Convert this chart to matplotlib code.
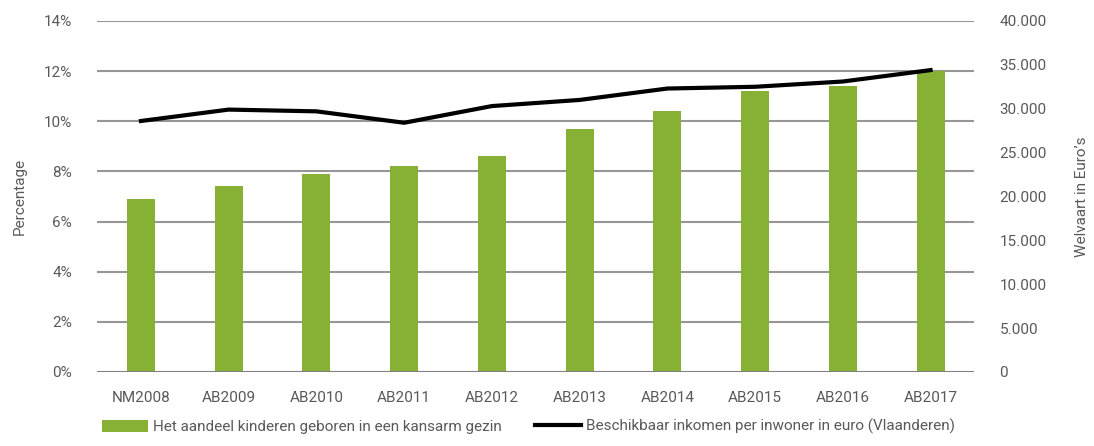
import matplotlib.pyplot as plt
import numpy as np

plt.rcParams['font.family'] = ['Roboto', 'DejaVu Sans']

jaren = ['NM2008', 'AB2009', 'AB2010', 'AB2011', 'AB2012',
         'AB2013', 'AB2014', 'AB2015', 'AB2016', 'AB2017']
aandeel = [6.9, 7.4, 7.9, 8.2, 8.6, 9.7, 10.4, 11.2, 11.4, 12.0]
inkomen = [28600, 29900, 29700, 28400, 30300, 31000, 32300, 32500, 33100, 34400]

groen = '#86b135'
grijs = '#595959'
fs = 11

fig = plt.figure(figsize=(10.94, 4.46), dpi=100)
ax = fig.add_axes([0.0887, 0.166, 0.802, 0.787])
ax2 = ax.twinx()

x = np.arange(len(jaren))
ax.bar(x, [v / 100 for v in aandeel], width=0.32, color=groen, zorder=2,
       label='Het aandeel kinderen geboren in een kansarm gezin')
ax2.plot(x, inkomen, color='black', lw=3, zorder=3,
         label='Beschikbaar inkomen per inwoner in euro (Vlaanderen)')

ax.set_ylim(0, 0.14)
ax2.set_ylim(0, 40000)
ax.set_xlim(-0.5, len(jaren) - 0.5)
ax.set_yticks(np.arange(0, 0.141, 0.02))
ax.set_yticklabels([f'{int(round(v*100))}%' for v in np.arange(0, 0.141, 0.02)])
ax2.set_yticks(np.arange(0, 40001, 5000))
ax2.set_yticklabels(['0' if v == 0 else f'{v:,}'.replace(',', '.') for v in range(0, 40001, 5000)])
ax.set_xticks(x)
ax.set_xticklabels(jaren)

for a in (ax, ax2):
    for s in a.spines.values():
        s.set_visible(False)
    a.tick_params(length=0, colors=grijs, labelsize=fs)
ax.tick_params(axis='x', pad=14)
ax.tick_params(axis='y', pad=18)
ax2.tick_params(axis='y', pad=18)

for v in np.arange(0.02, 0.141, 0.02):
    ax.axhline(v, color='#969696', lw=1.5, zorder=1)
ax.axhline(0, color='#808080', lw=1.5, zorder=3)

ax.set_ylabel('Percentage', color=grijs, fontsize=fs, labelpad=12)
ax2.set_ylabel('Welvaart in Euro\u2019s', color=grijs, fontsize=fs, labelpad=20)

h1, l1 = ax.get_legend_handles_labels()
h2, l2 = ax2.get_legend_handles_labels()
leg = fig.legend(h1 + h2, l1 + l2, loc='lower left', bbox_to_anchor=(0.081, -0.005),
                 ncol=2, frameon=False, fontsize=fs, handlelength=3.0,
                 handleheight=0.8, handletextpad=0.3, columnspacing=2.2)
for t in leg.get_texts():
    t.set_color(grijs)

fig.savefig('out.png', dpi=100)
